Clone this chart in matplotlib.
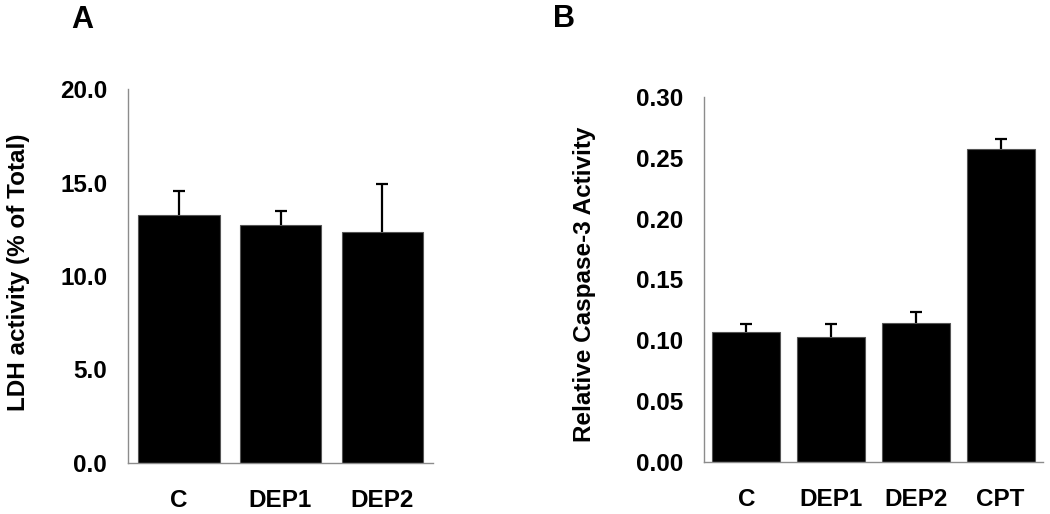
import matplotlib
matplotlib.use('Agg')
import matplotlib.pyplot as plt
import numpy as np

plt.rcParams['font.family'] = ['Liberation Sans', 'DejaVu Sans']
plt.rcParams['font.weight'] = 'bold'

# panel A - LDH release
ldh_groups = ['C', 'DEP1', 'DEP2']
ldh_means = [13.25, 12.75, 12.35]
ldh_err = [1.30, 0.72, 2.58]

# panel B - caspase-3
casp_groups = ['C', 'DEP1', 'DEP2', 'CPT']
casp_means = [0.107, 0.103, 0.114, 0.257]
casp_err = [0.0066, 0.0104, 0.0092, 0.0088]

W, H = 1050, 514
FS = 17.5
fig = plt.figure(figsize=(W / 100, H / 100), dpi=100)


def px_axes(left, top, right, bottom):
    return fig.add_axes([left / W, 1 - bottom / H, (right - left) / W, (bottom - top) / H])


def style(ax, n):
    for s in ['top', 'right']:
        ax.spines[s].set_visible(False)
    for s in ['left', 'bottom']:
        ax.spines[s].set_color('#8c8c8c')
        ax.spines[s].set_linewidth(1.0)
    ax.set_xlim(-0.5, n - 0.5)
    ax.tick_params(axis='y', length=0, pad=15, labelsize=FS)
    ax.tick_params(axis='x', length=0, pad=19, labelsize=FS)


def draw(ax, groups, means, err):
    x = np.arange(len(groups))
    ax.bar(x, means, width=0.8, color='black', edgecolor='#555555', linewidth=0.8, zorder=2)
    eb = ax.errorbar(x, means, yerr=[np.zeros(len(err)), err], fmt='none',
                     ecolor='black', elinewidth=1.6, capsize=4.5, capthick=1.6, zorder=3)
    # keep only the upper caps
    for cap in eb.lines[1]:
        if np.allclose(cap.get_ydata(), means):
            cap.set_visible(False)
    ax.set_xticks(x)
    ax.set_xticklabels(groups, fontweight='bold')


axA = px_axes(128, 89, 433, 463)
draw(axA, ldh_groups, ldh_means, ldh_err)
style(axA, len(ldh_groups))
axA.set_ylim(0, 20)
axA.set_yticks(np.arange(0, 20.1, 5))
axA.set_yticklabels(['%.1f' % v for v in np.arange(0, 20.1, 5)], fontweight='bold')

axB = px_axes(704, 97, 1043, 462)
draw(axB, casp_groups, casp_means, casp_err)
style(axB, len(casp_groups))
axB.set_ylim(0, 0.30)
axB.set_yticks(np.arange(0, 0.301, 0.05))
axB.set_yticklabels(['%.2f' % v for v in np.arange(0, 0.301, 0.05)], fontweight='bold')

fig.text(19 / W, 1 - 272 / H, 'LDH activity (% of Total)', rotation=90,
         ha='center', va='center', fontsize=FS, fontweight='bold')
fig.text(584 / W, 1 - 284 / H, 'Relative Caspase-3 Activity', rotation=90,
         ha='center', va='center', fontsize=FS, fontweight='bold')

fig.text(82 / W, 1 - 20 / H, 'A', ha='center', va='center', fontsize=22, fontweight='bold')
fig.text(564 / W, 1 - 19 / H, 'B', ha='center', va='center', fontsize=22, fontweight='bold')

fig.savefig('out.png', dpi=100)
